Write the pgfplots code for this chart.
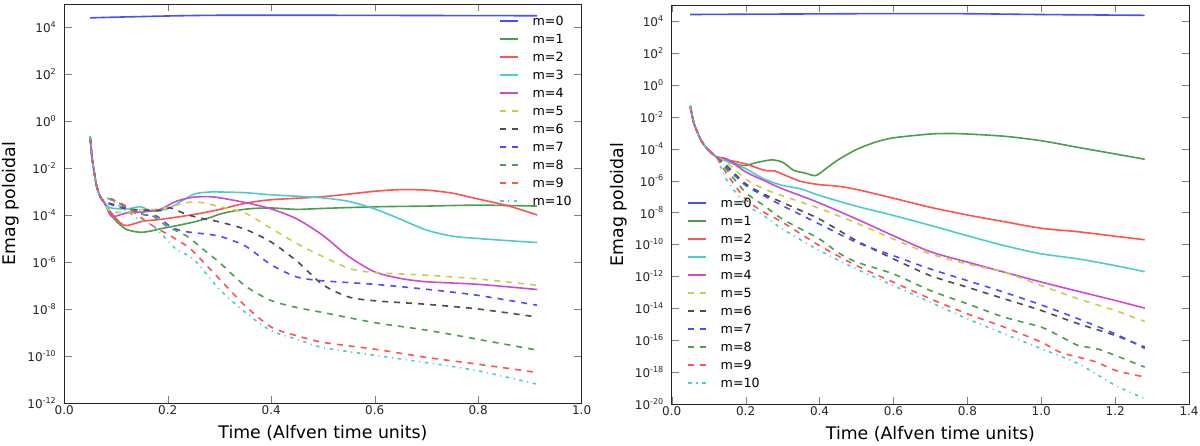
\documentclass[border=0pt]{standalone}
\usepackage{fontspec}
\setmainfont{DejaVu Sans}
\usepackage{pgfplots}
\pgfplotsset{compat=1.18}
\definecolor{colB}{rgb}{0.3,0.3,1}
\definecolor{colG}{rgb}{0.3,0.62,0.3}
\definecolor{colR}{rgb}{1,0.32,0.32}
\definecolor{colC}{rgb}{0.3,0.8,0.8}
\definecolor{colM}{rgb}{0.8,0.3,0.8}
\definecolor{colY}{rgb}{0.8,0.8,0.3}
\definecolor{colK}{rgb}{0.3,0.3,0.3}
\pgfplotsset{
  legend image code/.code={\draw[#1, line width=1.4pt] (0pt,0pt) -- (13.5pt,0pt);},
}
\tikzset{
  psl/.style={line width=1.2pt, smooth, tension=0.45},
  pds/.style={psl, dash pattern=on 4.5pt off 4.5pt},
  pdd/.style={psl, dash pattern=on 2.5pt off 3.5pt on 0.8pt off 3.5pt},
}
\begin{document}
\begin{tikzpicture}
\useasboundingbox (0,0) rectangle (900pt,334.5pt);
% ---------------- left ----------------
\begin{axis}[at={(48.2pt,31.9pt)},
  anchor=south west, scale only axis, width=388pt, height=299.6pt,
  ymode=log, ymax=1e5,
  tick align=inside, major tick length=5.5pt,
  axis line style={black!85},
  tick label style={font=\fontsize{9}{10}\selectfont, black!85},
  yticklabel style={inner sep=0pt, xshift=-5.7pt},
  xticklabel style={inner sep=0pt, yshift=-1.5pt},
  label style={font=\fontsize{13}{15}\selectfont},
  xlabel={Time (Alfven time units)},
  ylabel={Emag poloidal},
  xlabel style={at={(axis description cs:0.5,-0.074)}, anchor=center},
  ylabel style={at={(axis description cs:-0.1044,0.5)}, anchor=center},
  legend cell align=left,
  legend style={draw=none, fill=none, font=\fontsize{9.5}{10}\selectfont,
    inner sep=0pt, row sep=6.6pt,
    nodes={inner sep=0pt, text height=6.9pt, text depth=0pt},
    /tikz/every odd column/.append style={column sep=10pt}},
  xmin=0, xmax=1.0, ymin=1e-12,
  xtick={0,0.2,0.4,0.6,0.8,1.0},
  xticklabels={0.0,0.2,0.4,0.6,0.8,1.0},
  ytick={1e-12,1e-10,1e-8,1e-6,1e-4,1e-2,1,1e2,1e4},
  minor ytick={},
  yticklabels={10\textsuperscript{-12},10\textsuperscript{-10},10\textsuperscript{-8},10\textsuperscript{-6},10\textsuperscript{-4},10\textsuperscript{-2},10\textsuperscript{0},10\textsuperscript{2},10\textsuperscript{4}},
  legend style={at={(rel axis cs:0.8407,0.969)}, anchor=north west},
]
\addplot[psl, color=colB] table[row sep=\\, y expr={10^(\thisrow{L})}] {t L\\
0.05 4.41\\ 0.1 4.44\\ 0.2 4.49\\ 0.3 4.52\\ 0.5 4.52\\ 0.7 4.51\\ 0.914 4.50\\};
\addlegendentry{m=0}
\addplot[psl, color=colG] table[row sep=\\, y expr={10^(\thisrow{L})}] {t L\\
0.05 -0.65\\ 0.053 -1.4\\ 0.056 -1.9\\ 0.06 -2.45\\ 0.0626 -2.75\\ 0.066 -3.0\\ 0.069 -3.18\\ 0.0755 -3.39\\
0.082 -3.6\\ 0.095 -4.1\\ 0.108 -4.4\\ 0.121 -4.6\\ 0.14 -4.7\\ 0.153 -4.71\\ 0.17 -4.65\\ 0.185 -4.57\\ 0.22 -4.42\\ 0.25 -4.28\\ 0.28 -4.1\\ 0.301 -3.94\\ 0.33 -3.8\\ 0.36 -3.71\\ 0.4 -3.68\\ 0.45 -3.74\\ 0.5 -3.7\\ 0.6 -3.63\\ 0.7 -3.6\\ 0.8 -3.56\\ 0.914 -3.6\\};
\addlegendentry{m=1}
\addplot[psl, color=colR] table[row sep=\\, y expr={10^(\thisrow{L})}] {t L\\
0.05 -0.65\\ 0.053 -1.4\\ 0.056 -1.9\\ 0.06 -2.45\\ 0.0626 -2.75\\ 0.066 -3.0\\ 0.069 -3.18\\ 0.0755 -3.39\\
0.0884 -3.82\\ 0.108 -4.31\\ 0.121 -4.43\\ 0.153 -4.24\\ 0.185 -4.17\\ 0.25 -3.96\\ 0.301 -3.74\\ 0.35 -3.48\\ 0.4 -3.33\\ 0.5 -3.2\\ 0.6 -2.97\\ 0.65 -2.9\\ 0.7 -2.92\\ 0.75 -3.05\\ 0.8 -3.3\\ 0.86 -3.6\\ 0.914 -3.98\\};
\addlegendentry{m=2}
\addplot[psl, color=colC] table[row sep=\\, y expr={10^(\thisrow{L})}] {t L\\
0.05 -0.65\\ 0.053 -1.4\\ 0.056 -1.9\\ 0.06 -2.45\\ 0.0626 -2.75\\ 0.066 -3.0\\ 0.069 -3.18\\ 0.0755 -3.39\\
0.0884 -3.67\\ 0.121 -3.72\\ 0.147 -3.63\\ 0.172 -3.82\\ 0.204 -3.67\\ 0.25 -3.1\\ 0.282 -3.0\\ 0.301 -3.0\\ 0.35 -3.03\\ 0.4 -3.12\\ 0.45 -3.18\\ 0.5 -3.25\\ 0.55 -3.4\\ 0.6 -3.72\\ 0.65 -4.16\\ 0.7 -4.62\\ 0.75 -4.88\\ 0.8 -4.98\\ 0.85 -5.06\\ 0.914 -5.15\\};
\addlegendentry{m=3}
\addplot[psl, color=colM] table[row sep=\\, y expr={10^(\thisrow{L})}] {t L\\
0.05 -0.65\\ 0.053 -1.4\\ 0.056 -1.9\\ 0.06 -2.45\\ 0.0626 -2.75\\ 0.066 -3.0\\ 0.069 -3.18\\ 0.0755 -3.39\\
0.0884 -3.96\\ 0.095 -4.06\\ 0.121 -3.89\\ 0.153 -3.85\\ 0.185 -3.74\\ 0.217 -3.39\\ 0.25 -3.22\\ 0.28 -3.2\\ 0.301 -3.25\\ 0.35 -3.45\\ 0.4 -3.72\\ 0.45 -4.15\\ 0.5 -4.85\\ 0.55 -5.75\\ 0.6 -6.4\\ 0.65 -6.68\\ 0.7 -6.82\\ 0.8 -6.93\\ 0.914 -7.15\\};
\addlegendentry{m=4}
\addplot[pds, color=colY] table[row sep=\\, y expr={10^(\thisrow{L})}] {t L\\
0.05 -0.65\\ 0.053 -1.4\\ 0.056 -1.9\\ 0.06 -2.45\\ 0.0626 -2.75\\ 0.066 -3.0\\ 0.069 -3.18\\ 0.0755 -3.39\\
0.0884 -3.82\\ 0.121 -3.86\\ 0.153 -3.74\\ 0.185 -3.72\\ 0.25 -3.42\\ 0.3 -3.62\\ 0.35 -3.9\\ 0.4 -4.55\\ 0.45 -5.2\\ 0.5 -5.75\\ 0.55 -6.25\\ 0.6 -6.43\\ 0.7 -6.54\\ 0.8 -6.7\\ 0.914 -6.97\\};
\addlegendentry{m=5}
\addplot[pds, color=colK] table[row sep=\\, y expr={10^(\thisrow{L})}] {t L\\
0.05 -0.65\\ 0.053 -1.4\\ 0.056 -1.9\\ 0.06 -2.45\\ 0.0626 -2.75\\ 0.066 -3.0\\ 0.069 -3.18\\ 0.0755 -3.39\\
0.095 -3.53\\ 0.121 -3.72\\ 0.185 -3.79\\ 0.204 -3.67\\ 0.237 -3.96\\ 0.269 -4.14\\ 0.301 -4.28\\ 0.35 -4.59\\ 0.4 -5.13\\ 0.45 -5.95\\ 0.5 -6.95\\ 0.55 -7.47\\ 0.6 -7.63\\ 0.7 -7.78\\ 0.8 -7.98\\ 0.914 -8.32\\};
\addlegendentry{m=6}
\addplot[pds, color=colB] table[row sep=\\, y expr={10^(\thisrow{L})}] {t L\\
0.05 -0.65\\ 0.053 -1.4\\ 0.056 -1.9\\ 0.06 -2.45\\ 0.0626 -2.75\\ 0.066 -3.0\\ 0.069 -3.18\\ 0.0755 -3.39\\
0.095 -3.57\\ 0.121 -3.67\\ 0.153 -3.96\\ 0.179 -4.03\\ 0.204 -4.45\\ 0.23 -4.67\\ 0.282 -4.81\\ 0.301 -4.88\\ 0.35 -5.3\\ 0.4 -6.1\\ 0.45 -6.62\\ 0.5 -6.78\\ 0.6 -6.93\\ 0.7 -7.14\\ 0.8 -7.4\\ 0.914 -7.82\\};
\addlegendentry{m=7}
\addplot[pds, color=colG] table[row sep=\\, y expr={10^(\thisrow{L})}] {t L\\
0.05 -0.65\\ 0.053 -1.4\\ 0.056 -1.9\\ 0.06 -2.45\\ 0.0626 -2.75\\ 0.066 -3.0\\ 0.069 -3.18\\ 0.0755 -3.39\\
0.085 -3.3\\ 0.095 -3.32\\ 0.121 -3.67\\ 0.153 -3.96\\ 0.172 -4.03\\ 0.198 -4.45\\ 0.237 -4.88\\ 0.269 -5.45\\ 0.3 -6.0\\ 0.35 -7.0\\ 0.4 -7.62\\ 0.45 -7.92\\ 0.5 -8.13\\ 0.6 -8.56\\ 0.7 -8.88\\ 0.8 -9.27\\ 0.914 -9.73\\};
\addlegendentry{m=8}
\addplot[pds, color=colR] table[row sep=\\, y expr={10^(\thisrow{L})}] {t L\\
0.05 -0.65\\ 0.053 -1.4\\ 0.056 -1.9\\ 0.06 -2.45\\ 0.0626 -2.75\\ 0.066 -3.0\\ 0.069 -3.18\\ 0.0755 -3.35\\
0.0884 -3.32\\ 0.114 -3.53\\ 0.14 -3.96\\ 0.172 -4.45\\ 0.204 -4.85\\ 0.237 -5.3\\ 0.25 -5.55\\ 0.3 -6.7\\ 0.35 -7.85\\ 0.4 -8.75\\ 0.45 -9.12\\ 0.5 -9.4\\ 0.6 -9.69\\ 0.7 -10.04\\ 0.8 -10.33\\ 0.914 -10.68\\};
\addlegendentry{m=9}
\addplot[pdd, color=colC] table[row sep=\\, y expr={10^(\thisrow{L})}] {t L\\
0.05 -0.65\\ 0.053 -1.4\\ 0.056 -1.9\\ 0.06 -2.45\\ 0.0626 -2.75\\ 0.066 -3.0\\ 0.069 -3.18\\ 0.0755 -3.3\\
0.082 -3.25\\ 0.108 -3.6\\ 0.14 -4.1\\ 0.172 -4.45\\ 0.198 -5.02\\ 0.217 -5.45\\ 0.25 -5.86\\ 0.3 -7.14\\ 0.35 -8.13\\ 0.4 -8.9\\ 0.45 -9.27\\ 0.5 -9.62\\ 0.6 -9.95\\ 0.7 -10.26\\ 0.8 -10.61\\ 0.914 -11.18\\};
\addlegendentry{m=10}
\end{axis}
% ---------------- right ----------------
\begin{axis}[at={(503.8pt,31.3pt)},
  anchor=south west, scale only axis, width=388pt, height=299.5pt,
  ymode=log, ymax=1e5,
  tick align=inside, major tick length=5.5pt,
  axis line style={black!85},
  tick label style={font=\fontsize{9}{10}\selectfont, black!85},
  yticklabel style={inner sep=0pt, xshift=-5.7pt},
  xticklabel style={inner sep=0pt, yshift=-1.5pt},
  label style={font=\fontsize{13}{15}\selectfont},
  xlabel={Time (Alfven time units)},
  ylabel={Emag poloidal},
  xlabel style={at={(axis description cs:0.5,-0.074)}, anchor=center},
  ylabel style={at={(axis description cs:-0.1032,0.5)}, anchor=center},
  legend cell align=left,
  legend style={draw=none, fill=none, font=\fontsize{9.5}{10}\selectfont,
    inner sep=0pt, row sep=6.6pt,
    nodes={inner sep=0pt, text height=6.9pt, text depth=0pt},
    /tikz/every odd column/.append style={column sep=10pt}},
  xmin=0, xmax=1.4, ymin=1e-20,
  xtick={0,0.2,0.4,0.6,0.8,1.0,1.2,1.4},
  xticklabels={0.0,0.2,0.4,0.6,0.8,1.0,1.2,1.4},
  ytick={1e-20,1e-18,1e-16,1e-14,1e-12,1e-10,1e-8,1e-6,1e-4,1e-2,1,1e2,1e4},
  minor ytick={},
  yticklabels={10\textsuperscript{-20},10\textsuperscript{-18},10\textsuperscript{-16},10\textsuperscript{-14},10\textsuperscript{-12},10\textsuperscript{-10},10\textsuperscript{-8},10\textsuperscript{-6},10\textsuperscript{-4},10\textsuperscript{-2},10\textsuperscript{0},10\textsuperscript{2},10\textsuperscript{4}},
  legend style={at={(rel axis cs:0.030,0.5157)}, anchor=north west},
]
\addplot[psl, color=colB] table[row sep=\\, y expr={10^(\thisrow{L})}] {t L\\
0.05 4.4\\ 0.2 4.42\\ 0.4 4.44\\ 0.6 4.46\\ 0.8 4.45\\ 1.0 4.4\\ 1.28 4.35\\};
\addlegendentry{m=0}
\addplot[psl, color=colG] table[row sep=\\, y expr={10^(\thisrow{L})}] {t L\\
0.05 -1.33\\ 0.055 -1.9\\ 0.06 -2.4\\ 0.07 -3.0\\ 0.08 -3.5\\ 0.09 -3.85\\ 0.1 -4.1\\ 0.12 -4.5\\
0.15 -4.72\\ 0.18 -5.0\\ 0.2 -5.05\\ 0.23 -4.87\\ 0.27 -4.7\\ 0.3 -4.85\\ 0.33 -5.35\\ 0.36 -5.52\\ 0.39 -5.68\\ 0.42 -5.2\\ 0.45 -4.7\\ 0.5 -4.05\\ 0.55 -3.6\\ 0.6 -3.32\\ 0.7 -3.08\\ 0.76 -3.05\\ 0.8 -3.08\\ 0.9 -3.22\\ 1.0 -3.5\\ 1.1 -3.92\\ 1.2 -4.33\\ 1.28 -4.66\\};
\addlegendentry{m=1}
\addplot[psl, color=colR] table[row sep=\\, y expr={10^(\thisrow{L})}] {t L\\
0.05 -1.33\\ 0.055 -1.9\\ 0.06 -2.4\\ 0.07 -3.0\\ 0.08 -3.5\\ 0.09 -3.85\\ 0.1 -4.1\\ 0.12 -4.5\\
0.15 -4.7\\ 0.2 -4.95\\ 0.25 -5.35\\ 0.28 -5.4\\ 0.3 -5.6\\ 0.35 -6.05\\ 0.4 -6.25\\ 0.45 -6.35\\ 0.5 -6.55\\ 0.6 -7.1\\ 0.7 -7.67\\ 0.8 -8.15\\ 0.9 -8.57\\ 1.0 -8.98\\ 1.1 -9.2\\ 1.2 -9.48\\ 1.28 -9.7\\};
\addlegendentry{m=2}
\addplot[psl, color=colC] table[row sep=\\, y expr={10^(\thisrow{L})}] {t L\\
0.05 -1.33\\ 0.055 -1.9\\ 0.06 -2.4\\ 0.07 -3.0\\ 0.08 -3.5\\ 0.09 -3.85\\ 0.1 -4.1\\ 0.12 -4.5\\
0.15 -4.8\\ 0.2 -5.25\\ 0.25 -5.9\\ 0.3 -6.3\\ 0.35 -6.52\\ 0.4 -6.93\\ 0.5 -7.6\\ 0.6 -8.18\\ 0.7 -8.8\\ 0.8 -9.45\\ 0.9 -10.07\\ 1.0 -10.58\\ 1.1 -10.9\\ 1.2 -11.32\\ 1.28 -11.7\\};
\addlegendentry{m=3}
\addplot[psl, color=colM] table[row sep=\\, y expr={10^(\thisrow{L})}] {t L\\
0.05 -1.33\\ 0.055 -1.9\\ 0.06 -2.4\\ 0.07 -3.0\\ 0.08 -3.5\\ 0.09 -3.85\\ 0.1 -4.1\\ 0.12 -4.5\\
0.15 -4.65\\ 0.2 -5.45\\ 0.25 -6.0\\ 0.3 -6.52\\ 0.35 -6.95\\ 0.4 -7.4\\ 0.5 -8.4\\ 0.6 -9.45\\ 0.7 -10.45\\ 0.8 -11.1\\ 0.9 -11.73\\ 1.0 -12.35\\ 1.1 -12.93\\ 1.2 -13.5\\ 1.28 -13.98\\};
\addlegendentry{m=4}
\addplot[pds, color=colY] table[row sep=\\, y expr={10^(\thisrow{L})}] {t L\\
0.05 -1.33\\ 0.055 -1.9\\ 0.06 -2.4\\ 0.07 -3.0\\ 0.08 -3.5\\ 0.09 -3.85\\ 0.1 -4.1\\ 0.12 -4.5\\
0.15 -4.9\\ 0.2 -5.9\\ 0.25 -6.52\\ 0.3 -6.95\\ 0.4 -7.74\\ 0.5 -8.66\\ 0.6 -9.66\\ 0.7 -10.59\\ 0.8 -11.22\\ 0.9 -11.74\\ 1.0 -12.57\\ 1.1 -13.4\\ 1.2 -14.13\\ 1.28 -14.82\\};
\addlegendentry{m=5}
\addplot[pds, color=colK] table[row sep=\\, y expr={10^(\thisrow{L})}] {t L\\
0.05 -1.33\\ 0.055 -1.9\\ 0.06 -2.4\\ 0.07 -3.0\\ 0.08 -3.5\\ 0.09 -3.85\\ 0.1 -4.1\\ 0.12 -4.5\\
0.15 -5.1\\ 0.2 -6.2\\ 0.25 -6.85\\ 0.3 -7.37\\ 0.4 -8.41\\ 0.5 -9.76\\ 0.6 -10.9\\ 0.7 -11.95\\ 0.8 -12.67\\ 0.9 -13.4\\ 1.0 -14.13\\ 1.1 -14.96\\ 1.2 -15.69\\ 1.28 -16.42\\};
\addlegendentry{m=6}
\addplot[pds, color=colB] table[row sep=\\, y expr={10^(\thisrow{L})}] {t L\\
0.05 -1.33\\ 0.055 -1.9\\ 0.06 -2.4\\ 0.07 -3.0\\ 0.08 -3.5\\ 0.09 -3.85\\ 0.1 -4.1\\ 0.12 -4.5\\
0.15 -5.2\\ 0.2 -6.3\\ 0.25 -6.95\\ 0.3 -7.57\\ 0.4 -8.72\\ 0.5 -9.86\\ 0.6 -10.7\\ 0.7 -11.53\\ 0.8 -12.26\\ 0.9 -12.99\\ 1.0 -13.78\\ 1.1 -14.65\\ 1.2 -15.59\\ 1.28 -16.5\\};
\addlegendentry{m=7}
\addplot[pds, color=colG] table[row sep=\\, y expr={10^(\thisrow{L})}] {t L\\
0.05 -1.33\\ 0.055 -1.9\\ 0.06 -2.4\\ 0.07 -3.0\\ 0.08 -3.5\\ 0.09 -3.85\\ 0.1 -4.1\\ 0.12 -4.5\\
0.15 -5.35\\ 0.2 -6.74\\ 0.25 -7.57\\ 0.3 -8.41\\ 0.4 -9.66\\ 0.45 -10.5\\ 0.5 -11.1\\ 0.6 -11.84\\ 0.7 -12.88\\ 0.8 -13.71\\ 0.9 -14.55\\ 1.0 -15.17\\ 1.05 -15.73\\ 1.1 -16.32\\ 1.15 -16.52\\ 1.2 -16.94\\ 1.25 -17.4\\ 1.28 -17.67\\};
\addlegendentry{m=8}
\addplot[pds, color=colR] table[row sep=\\, y expr={10^(\thisrow{L})}] {t L\\
0.05 -1.33\\ 0.055 -1.9\\ 0.06 -2.4\\ 0.07 -3.0\\ 0.08 -3.5\\ 0.09 -3.85\\ 0.1 -4.1\\ 0.12 -4.5\\
0.15 -5.6\\ 0.2 -7.16\\ 0.25 -7.99\\ 0.3 -8.61\\ 0.4 -10.07\\ 0.5 -11.32\\ 0.6 -12.36\\ 0.7 -13.4\\ 0.8 -14.34\\ 0.9 -15.17\\ 1.0 -16.11\\ 1.05 -16.73\\ 1.1 -17.05\\ 1.15 -17.36\\ 1.2 -17.88\\ 1.28 -18.29\\};
\addlegendentry{m=9}
\addplot[pdd, color=colC] table[row sep=\\, y expr={10^(\thisrow{L})}] {t L\\
0.05 -1.33\\ 0.055 -1.9\\ 0.06 -2.4\\ 0.07 -3.0\\ 0.08 -3.5\\ 0.09 -3.85\\ 0.1 -4.1\\ 0.12 -4.5\\
0.15 -6.0\\ 0.2 -7.47\\ 0.25 -8.2\\ 0.3 -9.03\\ 0.4 -10.38\\ 0.5 -11.53\\ 0.6 -12.57\\ 0.7 -13.61\\ 0.8 -14.65\\ 0.9 -15.59\\ 1.0 -16.52\\ 1.1 -17.46\\ 1.2 -18.81\\ 1.28 -19.65\\};
\addlegendentry{m=10}
\end{axis}
\end{tikzpicture}
\end{document}
